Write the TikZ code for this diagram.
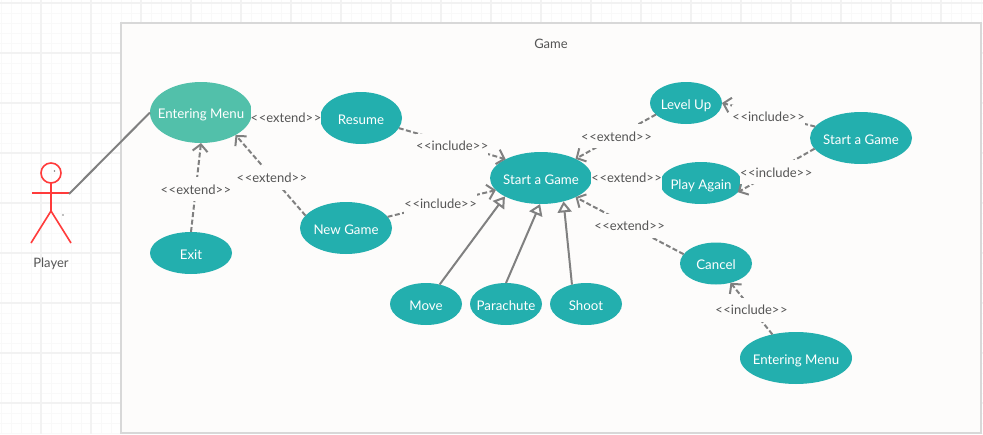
\documentclass[tikz,border=0pt]{standalone}
\usepackage{fontspec}
\setmainfont{Lato}
\usetikzlibrary{shapes.geometric,arrows.meta}
\definecolor{teal1}{HTML}{23AFAE}
\definecolor{teal2}{HTML}{52C0AA}
\definecolor{boxfill}{HTML}{FDFCFB}
\definecolor{boxline}{HTML}{D8D8D8}
\definecolor{linegray}{HTML}{808080}
\definecolor{textgray}{HTML}{555555}
\definecolor{actorred}{HTML}{FF3B3B}
\definecolor{gridmaj}{HTML}{F2F2F2}
\definecolor{gridmin}{HTML}{F9F9F9}
\newcommand{\tx}[1]{\makebox[0pt]{#1}}
\newcommand{\ext}{<\kern0.6pt<extend>\kern0.6pt>}
\newcommand{\inc}{<\kern0.6pt<include>\kern0.6pt>}
\tikzset{
  usecase/.style={ellipse,fill=teal1,draw=none,inner sep=0pt,outer sep=0pt,text=white,
    font=\fontsize{13.3}{15}\selectfont,text height=12pt,text depth=0pt},
  lbl/.style={fill=boxfill,text=textgray,inner xsep=0pt,inner ysep=0pt,minimum height=24pt,
    font=\fontsize{13}{15}\selectfont,text height=10pt,text depth=0pt},
  plain/.style={draw=none,text=textgray,font=\fontsize{13}{15}\selectfont,inner sep=0pt},
  dep/.style={draw=linegray,line width=2pt,dash pattern=on 5pt off 2.5pt,
    -{Straight Barb[length=7pt,width=15pt,line width=2pt]}},
  gen/.style={draw=linegray,line width=2pt,
    -{Triangle[open,fill=boxfill,length=11pt,width=14pt,line width=2pt]}},
  assoc/.style={draw=linegray,line width=2pt},
  limb/.style={draw=actorred,line width=1.6pt}
}
\begin{document}
\begin{tikzpicture}[x=1pt,y=-1pt]
\useasboundingbox (0,0) rectangle (983,434);
\fill[white] (0,0) rectangle (983,434);
% grid
\foreach \i in {1,11,...,981} \draw[gridmin,line width=1pt] (\i,0) -- (\i,434);
\foreach \i in {3,13,...,433} \draw[gridmin,line width=1pt] (0,\i) -- (983,\i);
\foreach \i in {41,91,...,981} \draw[gridmaj,line width=2pt] (\i,0) -- (\i,434);
\foreach \i in {3,53,...,433} \draw[gridmaj,line width=2pt] (0,\i) -- (983,\i);
% container
\draw[fill=boxfill,draw=boxline,line width=2pt] (121,23) rectangle (981,433);
\node[plain] (gametitle) at (551,44) {Game};
% actor
\draw[limb] (51,173) circle (10);
\draw[limb] (51,183) -- (51,211);
\draw[limb] (32,193) -- (70,193);
\draw[limb] (51,211) -- (31,243);
\draw[limb] (51,211) -- (71,243);
\fill[linegray] (54.5,171) circle (0.9);
\fill[linegray] (63,215) circle (0.9);
\node[plain] (playerlabel) at (51,264) {Player};
\coordinate (hand) at (69,194);
% use cases
\node[usecase,fill=teal2,minimum width=102pt,minimum height=61pt] (menu) at (201,112.5) {\tx{Entering Menu}};
\node[usecase,minimum width=82pt,minimum height=42pt] (exit) at (191,253) {\tx{Exit}};
\node[usecase,minimum width=82pt,minimum height=52pt] (resume) at (361,118) {\tx{Resume}};
\node[usecase,minimum width=92pt,minimum height=52pt] (newgame) at (346,228) {\tx{New Game}};
\node[usecase,minimum width=102pt,minimum height=52pt] (start) at (541,178) {\tx{Start a Game}};
\node[usecase,minimum width=72pt,minimum height=42pt] (move) at (426,304) {\tx{Move}};
\node[usecase,minimum width=72pt,minimum height=42pt] (para) at (506,304) {\tx{Parachute}};
\node[usecase,minimum width=72pt,minimum height=42pt] (shoot) at (586,304) {\tx{Shoot}};
\node[usecase,minimum width=72pt,minimum height=42pt] (level) at (686,103) {\tx{Level Up}};
\node[usecase,minimum width=82pt,minimum height=42pt] (play) at (701,183) {\tx{Play Again}};
\node[usecase,minimum width=72pt,minimum height=42pt] (cancel) at (716,263.5) {\tx{Cancel}};
\node[usecase,minimum width=102pt,minimum height=52pt] (start2) at (861,138) {\tx{Start a Game}};
\node[usecase,minimum width=112pt,minimum height=52pt] (menu2) at (796,358) {\tx{Entering Menu}};
% connectors
\draw[assoc] (hand) -- (menu.west);
\draw[gen] (move.55) -- (start.207);
\draw[gen] (para.north) -- (start.268);
\draw[gen] (shoot.126) -- (start.-46);
\draw[dep] (exit.north) -- node[lbl,pos=.49,yshift=-1pt] (l1) {\ext} (menu.south);
\draw[dep] (newgame.163) -- node[lbl,pos=.48,yshift=-1pt] (l2) {\ext} (menu.-33);
\draw[dep] (resume.west) -- node[lbl,yshift=1pt] (l3) {\ext} (menu.east |- resume.west);
\draw[dep] (resume.-15) -- node[lbl,yshift=-2pt] (l4) {\inc} (start.152);
\draw[dep] (newgame.15) -- node[lbl,pos=.49] (l5) {\inc} (start.195);
\draw[dep] (level.201) -- node[lbl,pos=.49] (l6) {\ext} (start.29);
\draw[dep] (play.west) -- node[lbl,pos=.49,yshift=3pt] (l7) {\ext} (start.east);
\draw[dep] (cancel.164) -- node[lbl] (l8) {\ext} (start.-29);
\draw[dep] (start2.166) -- node[lbl,yshift=-2pt] (l9) {\inc} (level.east);
\draw[dep] (start2.193) -- node[lbl,yshift=-2pt] (l10) {\inc} (play.-14);
\draw[dep] (menu2.135) -- node[lbl,yshift=-1pt] (l11) {\inc} (cancel.-53);
\end{tikzpicture}
\end{document}
